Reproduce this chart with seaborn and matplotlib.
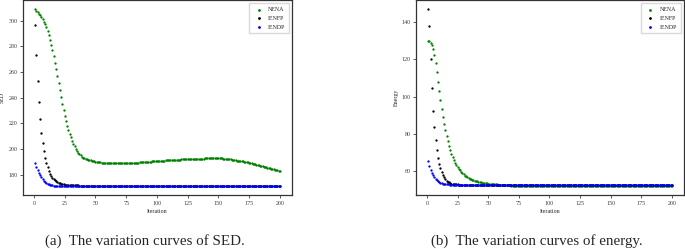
import matplotlib
matplotlib.use("Agg")
import matplotlib.pyplot as plt
import seaborn as sns

iterations = list(range(1, 201))
series_names = ["NENA", "IENFP", "IENDP"]
series_colors = ["green", "black", "blue"]

# SED per iteration
sed_nena = [
    309.0, 308.0, 306.9, 305.7, 304.4, 302.9, 301.2, 299.4, 297.3, 294.9,
    292.2, 289.0, 285.3, 281.4, 277.0, 272.2, 267.3, 262.2, 256.8, 251.4,
    246.0, 240.5, 235.2, 230.1, 225.5, 221.5, 217.9, 214.6, 211.6, 209.0,
    206.5, 204.2, 202.0, 200.1, 198.5, 197.2, 196.0, 195.0, 194.1, 193.3,
    192.8, 192.4, 192.0, 191.7, 191.4, 191.1, 190.8, 190.5, 190.3, 190.1,
    189.9, 189.8, 189.6, 189.5, 189.4, 189.3, 189.2, 189.1, 189.1, 189.0,
    189.0, 188.9, 188.9, 188.8, 188.8, 188.8, 188.7, 188.7, 188.7, 188.7,
    188.7, 188.7, 188.7, 188.7, 188.8, 188.8, 188.8, 188.9, 188.9, 189.0,
    189.1, 189.2, 189.2, 189.3, 189.4, 189.5, 189.6, 189.7, 189.8, 189.9,
    189.9, 190.0, 190.1, 190.2, 190.2, 190.3, 190.4, 190.5, 190.5, 190.6,
    190.7, 190.7, 190.8, 190.9, 190.9, 191.0, 191.1, 191.1, 191.2, 191.3,
    191.3, 191.4, 191.4, 191.5, 191.5, 191.6, 191.6, 191.7, 191.7, 191.8,
    191.8, 191.9, 191.9, 192.0, 192.0, 192.1, 192.1, 192.2, 192.2, 192.3,
    192.3, 192.3, 192.4, 192.4, 192.4, 192.5, 192.5, 192.5, 192.6, 192.6,
    192.6, 192.6, 192.7, 192.7, 192.7, 192.7, 192.7, 192.7, 192.7, 192.7,
    192.7, 192.6, 192.6, 192.5, 192.4, 192.3, 192.2, 192.1, 192.0, 191.8,
    191.6, 191.5, 191.3, 191.2, 191.0, 190.9, 190.7, 190.6, 190.4, 190.3,
    190.1, 190.0, 189.8, 189.6, 189.4, 189.1, 188.9, 188.6, 188.4, 188.1,
    187.8, 187.6, 187.3, 187.0, 186.8, 186.5, 186.2, 185.9, 185.7, 185.4,
    185.1, 184.8, 184.6, 184.3, 184.0, 183.8, 183.5, 183.3, 183.0, 182.8,
]
sed_ienfp = [
    296.6, 273.7, 253.4, 236.6, 223.3, 212.8, 204.7, 198.2, 193.2, 189.0,
    185.6, 182.8, 180.6, 178.8, 177.4, 176.3, 175.4, 174.7, 174.1, 173.6,
    173.2, 172.9, 172.6, 172.4, 172.2, 172.1, 172.0, 171.9, 171.8, 171.7,
    171.7, 171.6, 171.6, 171.5, 171.5, 171.5, 171.4, 171.4, 171.4, 171.4,
    171.4, 171.4, 171.4, 171.4, 171.4, 171.4, 171.4, 171.4, 171.4, 171.4,
    171.4, 171.4, 171.4, 171.4, 171.4, 171.4, 171.4, 171.4, 171.4, 171.4,
    171.4, 171.4, 171.4, 171.4, 171.4, 171.4, 171.4, 171.4, 171.4, 171.4,
    171.4, 171.4, 171.4, 171.4, 171.4, 171.4, 171.4, 171.4, 171.4, 171.4,
    171.4, 171.4, 171.4, 171.4, 171.4, 171.4, 171.4, 171.4, 171.4, 171.4,
    171.4, 171.4, 171.4, 171.4, 171.4, 171.4, 171.4, 171.4, 171.4, 171.4,
    171.4, 171.4, 171.4, 171.4, 171.4, 171.4, 171.4, 171.4, 171.4, 171.4,
    171.4, 171.4, 171.4, 171.4, 171.4, 171.4, 171.4, 171.4, 171.4, 171.4,
    171.4, 171.4, 171.4, 171.4, 171.4, 171.4, 171.4, 171.4, 171.4, 171.4,
    171.4, 171.4, 171.4, 171.4, 171.4, 171.4, 171.4, 171.4, 171.4, 171.4,
    171.4, 171.4, 171.4, 171.4, 171.4, 171.4, 171.4, 171.4, 171.4, 171.4,
    171.4, 171.4, 171.4, 171.4, 171.4, 171.4, 171.4, 171.4, 171.4, 171.4,
    171.4, 171.4, 171.4, 171.4, 171.4, 171.4, 171.4, 171.4, 171.4, 171.4,
    171.4, 171.4, 171.4, 171.4, 171.4, 171.4, 171.4, 171.4, 171.4, 171.4,
    171.4, 171.4, 171.4, 171.4, 171.4, 171.4, 171.4, 171.4, 171.4, 171.4,
    171.4, 171.4, 171.4, 171.4, 171.4, 171.4, 171.4, 171.4, 171.4, 171.4,
]
sed_iendp = [
    189.1, 186.0, 183.4, 181.3, 179.4, 177.8, 176.4, 175.3, 174.4, 173.6,
    173.0, 172.5, 172.1, 171.8, 171.6, 171.4, 171.3, 171.2, 171.1, 171.0,
    171.0, 171.0, 171.0, 171.0, 171.0, 171.0, 171.0, 171.0, 171.0, 171.0,
    171.0, 171.0, 171.0, 171.0, 171.0, 171.0, 171.0, 171.0, 171.0, 171.0,
    171.0, 171.0, 171.0, 171.0, 171.0, 171.0, 171.0, 171.0, 171.0, 171.0,
    171.0, 171.0, 171.0, 171.0, 171.0, 171.0, 171.0, 171.0, 171.0, 171.0,
    171.0, 171.0, 171.0, 171.0, 171.0, 171.0, 171.0, 171.0, 171.0, 171.0,
    171.0, 171.0, 171.0, 171.0, 171.0, 171.0, 171.0, 171.0, 171.0, 171.0,
    171.0, 171.0, 171.0, 171.0, 171.0, 171.0, 171.0, 171.0, 171.0, 171.0,
    171.0, 171.0, 171.0, 171.0, 171.0, 171.0, 171.0, 171.0, 171.0, 171.0,
    171.0, 171.0, 171.0, 171.0, 171.0, 171.0, 171.0, 171.0, 171.0, 171.0,
    171.0, 171.0, 171.0, 171.0, 171.0, 171.0, 171.0, 171.0, 171.0, 171.0,
    171.0, 171.0, 171.0, 171.0, 171.0, 171.0, 171.0, 171.0, 171.0, 171.0,
    171.0, 171.0, 171.0, 171.0, 171.0, 171.0, 171.0, 171.0, 171.0, 171.0,
    171.0, 171.0, 171.0, 171.0, 171.0, 171.0, 171.0, 171.0, 171.0, 171.0,
    171.0, 171.0, 171.0, 171.0, 171.0, 171.0, 171.0, 171.0, 171.0, 171.0,
    171.0, 171.0, 171.0, 171.0, 171.0, 171.0, 171.0, 171.0, 171.0, 171.0,
    171.0, 171.0, 171.0, 171.0, 171.0, 171.0, 171.0, 171.0, 171.0, 171.0,
    171.0, 171.0, 171.0, 171.0, 171.0, 171.0, 171.0, 171.0, 171.0, 171.0,
    171.0, 171.0, 171.0, 171.0, 171.0, 171.0, 171.0, 171.0, 171.0, 171.0,
]

# Energy per iteration
energy_nena = [
    130.0, 129.6, 128.8, 127.5, 125.4, 122.4, 118.2, 113.2, 107.9, 102.7,
    97.9, 93.4, 89.2, 85.3, 81.8, 78.6, 75.9, 73.5, 71.3, 69.3,
    67.5, 65.9, 64.5, 63.3, 62.2, 61.2, 60.3, 59.5, 58.8, 58.2,
    57.6, 57.1, 56.7, 56.3, 55.9, 55.6, 55.3, 55.0, 54.8, 54.6,
    54.4, 54.2, 54.1, 53.9, 53.8, 53.7, 53.6, 53.5, 53.4, 53.3,
    53.2, 53.1, 53.0, 53.0, 52.9, 52.8, 52.8, 52.7, 52.7, 52.6,
    52.6, 52.5, 52.5, 52.4, 52.4, 52.3, 52.3, 52.3, 52.2, 52.2,
    52.2, 52.1, 52.1, 52.1, 52.0, 52.0, 52.0, 52.0, 51.9, 51.9,
    51.9, 51.9, 51.9, 51.9, 51.9, 51.9, 51.9, 51.9, 51.9, 51.9,
    51.9, 51.9, 51.9, 51.9, 51.9, 51.9, 51.9, 51.9, 51.9, 51.9,
    51.9, 51.9, 51.9, 51.9, 51.9, 51.9, 51.9, 51.9, 51.9, 51.9,
    51.9, 51.9, 51.9, 51.9, 51.9, 51.9, 51.9, 51.9, 51.9, 51.9,
    51.9, 51.9, 51.9, 51.9, 51.9, 51.9, 51.9, 51.9, 51.9, 51.9,
    51.9, 51.9, 51.9, 51.9, 51.9, 51.9, 51.9, 51.9, 51.9, 51.9,
    51.9, 51.9, 51.9, 51.9, 51.9, 51.9, 51.9, 51.9, 51.9, 51.9,
    51.9, 51.9, 51.9, 51.9, 51.9, 51.9, 51.9, 51.9, 51.9, 51.9,
    51.9, 51.9, 51.9, 51.9, 51.9, 51.9, 51.9, 51.9, 51.9, 51.9,
    51.9, 51.9, 51.9, 51.9, 51.9, 51.9, 51.9, 51.9, 51.9, 51.9,
    51.9, 51.9, 51.9, 51.9, 51.9, 51.9, 51.9, 51.9, 51.9, 51.9,
    51.9, 51.9, 51.9, 51.9, 51.9, 51.9, 51.9, 51.9, 51.9, 51.9,
]
energy_ienfp = [
    146.8, 137.8, 120.0, 104.5, 92.4, 83.5, 76.5, 71.1, 67.2, 64.0,
    61.4, 59.4, 57.8, 56.6, 55.6, 54.9, 54.3, 53.9, 53.6, 53.3,
    53.1, 53.0, 52.9, 52.8, 52.8, 52.7, 52.7, 52.7, 52.6, 52.6,
    52.6, 52.6, 52.6, 52.6, 52.6, 52.6, 52.6, 52.6, 52.6, 52.6,
    52.6, 52.6, 52.6, 52.6, 52.6, 52.6, 52.6, 52.6, 52.6, 52.6,
    52.6, 52.6, 52.6, 52.6, 52.6, 52.6, 52.6, 52.6, 52.6, 52.6,
    52.6, 52.6, 52.6, 52.6, 52.6, 52.6, 52.6, 52.6, 52.6, 52.6,
    52.6, 52.6, 52.6, 52.6, 52.6, 52.6, 52.6, 52.6, 52.6, 52.6,
    52.6, 52.6, 52.6, 52.6, 52.6, 52.6, 52.6, 52.6, 52.6, 52.6,
    52.6, 52.6, 52.6, 52.6, 52.6, 52.6, 52.6, 52.6, 52.6, 52.6,
    52.6, 52.6, 52.6, 52.6, 52.6, 52.6, 52.6, 52.6, 52.6, 52.6,
    52.6, 52.6, 52.6, 52.6, 52.6, 52.6, 52.6, 52.6, 52.6, 52.6,
    52.6, 52.6, 52.6, 52.6, 52.6, 52.6, 52.6, 52.6, 52.6, 52.6,
    52.6, 52.6, 52.6, 52.6, 52.6, 52.6, 52.6, 52.6, 52.6, 52.6,
    52.6, 52.6, 52.6, 52.6, 52.6, 52.6, 52.6, 52.6, 52.6, 52.6,
    52.6, 52.6, 52.6, 52.6, 52.6, 52.6, 52.6, 52.6, 52.6, 52.6,
    52.6, 52.6, 52.6, 52.6, 52.6, 52.6, 52.6, 52.6, 52.6, 52.6,
    52.6, 52.6, 52.6, 52.6, 52.6, 52.6, 52.6, 52.6, 52.6, 52.6,
    52.6, 52.6, 52.6, 52.6, 52.6, 52.6, 52.6, 52.6, 52.6, 52.6,
    52.6, 52.6, 52.6, 52.6, 52.6, 52.6, 52.6, 52.6, 52.6, 52.6,
]
energy_iendp = [
    65.3, 62.8, 60.7, 59.0, 57.7, 56.6, 55.7, 55.0, 54.5, 54.1,
    53.8, 53.5, 53.3, 53.1, 53.0, 52.9, 52.8, 52.8, 52.7, 52.7,
    52.6, 52.6, 52.6, 52.6, 52.6, 52.6, 52.6, 52.6, 52.6, 52.6,
    52.6, 52.6, 52.6, 52.6, 52.6, 52.6, 52.6, 52.6, 52.6, 52.6,
    52.6, 52.6, 52.6, 52.6, 52.6, 52.6, 52.6, 52.6, 52.6, 52.6,
    52.6, 52.6, 52.6, 52.6, 52.6, 52.6, 52.6, 52.6, 52.6, 52.6,
    52.6, 52.6, 52.6, 52.6, 52.6, 52.6, 52.6, 52.6, 52.6, 52.6,
    52.6, 52.6, 52.6, 52.6, 52.6, 52.6, 52.6, 52.6, 52.6, 52.6,
    52.6, 52.6, 52.6, 52.6, 52.6, 52.6, 52.6, 52.6, 52.6, 52.6,
    52.6, 52.6, 52.6, 52.6, 52.6, 52.6, 52.6, 52.6, 52.6, 52.6,
    52.6, 52.6, 52.6, 52.6, 52.6, 52.6, 52.6, 52.6, 52.6, 52.6,
    52.6, 52.6, 52.6, 52.6, 52.6, 52.6, 52.6, 52.6, 52.6, 52.6,
    52.6, 52.6, 52.6, 52.6, 52.6, 52.6, 52.6, 52.6, 52.6, 52.6,
    52.6, 52.6, 52.6, 52.6, 52.6, 52.6, 52.6, 52.6, 52.6, 52.6,
    52.6, 52.6, 52.6, 52.6, 52.6, 52.6, 52.6, 52.6, 52.6, 52.6,
    52.6, 52.6, 52.6, 52.6, 52.6, 52.6, 52.6, 52.6, 52.6, 52.6,
    52.6, 52.6, 52.6, 52.6, 52.6, 52.6, 52.6, 52.6, 52.6, 52.6,
    52.6, 52.6, 52.6, 52.6, 52.6, 52.6, 52.6, 52.6, 52.6, 52.6,
    52.6, 52.6, 52.6, 52.6, 52.6, 52.6, 52.6, 52.6, 52.6, 52.6,
    52.6, 52.6, 52.6, 52.6, 52.6, 52.6, 52.6, 52.6, 52.6, 52.6,
]

sns.set_style("ticks")
plt.rcParams["font.family"] = ["Liberation Serif", "DejaVu Serif"]
small = 4.3

fig = plt.figure(figsize=(6.85, 2.49), dpi=100)
ax_sed = fig.add_axes([0.0336, 0.217, 0.3927, 0.781])
ax_energy = fig.add_axes([0.6073, 0.217, 0.3912, 0.781])

panels = [
    (ax_sed, [sed_nena, sed_ienfp, sed_iendp], "SED", 3),
    (ax_energy, [energy_nena, energy_ienfp, energy_iendp], "Energy", 1.5),
]

for ax, values, ylabel, pad in panels:
    for name, color, vals in zip(series_names, series_colors, values):
        sns.scatterplot(x=iterations, y=vals, color=color, s=2.8,
                        linewidth=0, label=name, ax=ax)
    ax.set_xticks([0, 25, 50, 75, 100, 125, 150, 175, 200])
    ax.set_xlabel("Iteration", fontsize=small, labelpad=2.5)
    ax.set_ylabel(ylabel, fontsize=small, labelpad=pad)
    ax.tick_params(labelsize=small, length=2.2, width=0.6, pad=1.8,
                   colors="0.25")
    for spine in ax.spines.values():
        spine.set_linewidth(0.9)
        spine.set_color("0.2")
    ax.legend(loc="upper right", fontsize=small, markerscale=1.2,
              handletextpad=0.6, borderpad=0.6, labelspacing=0.6,
              fancybox=False, edgecolor="0.85", framealpha=1)

fig.text(0.2117, 0.034, "(a)  The variation curves of SED.",
         ha="center", va="center", fontsize=10.8)
fig.text(0.784, 0.034, "(b)  The variation curves of energy.",
         ha="center", va="center", fontsize=10.8)

fig.savefig("out.png", dpi=100)
